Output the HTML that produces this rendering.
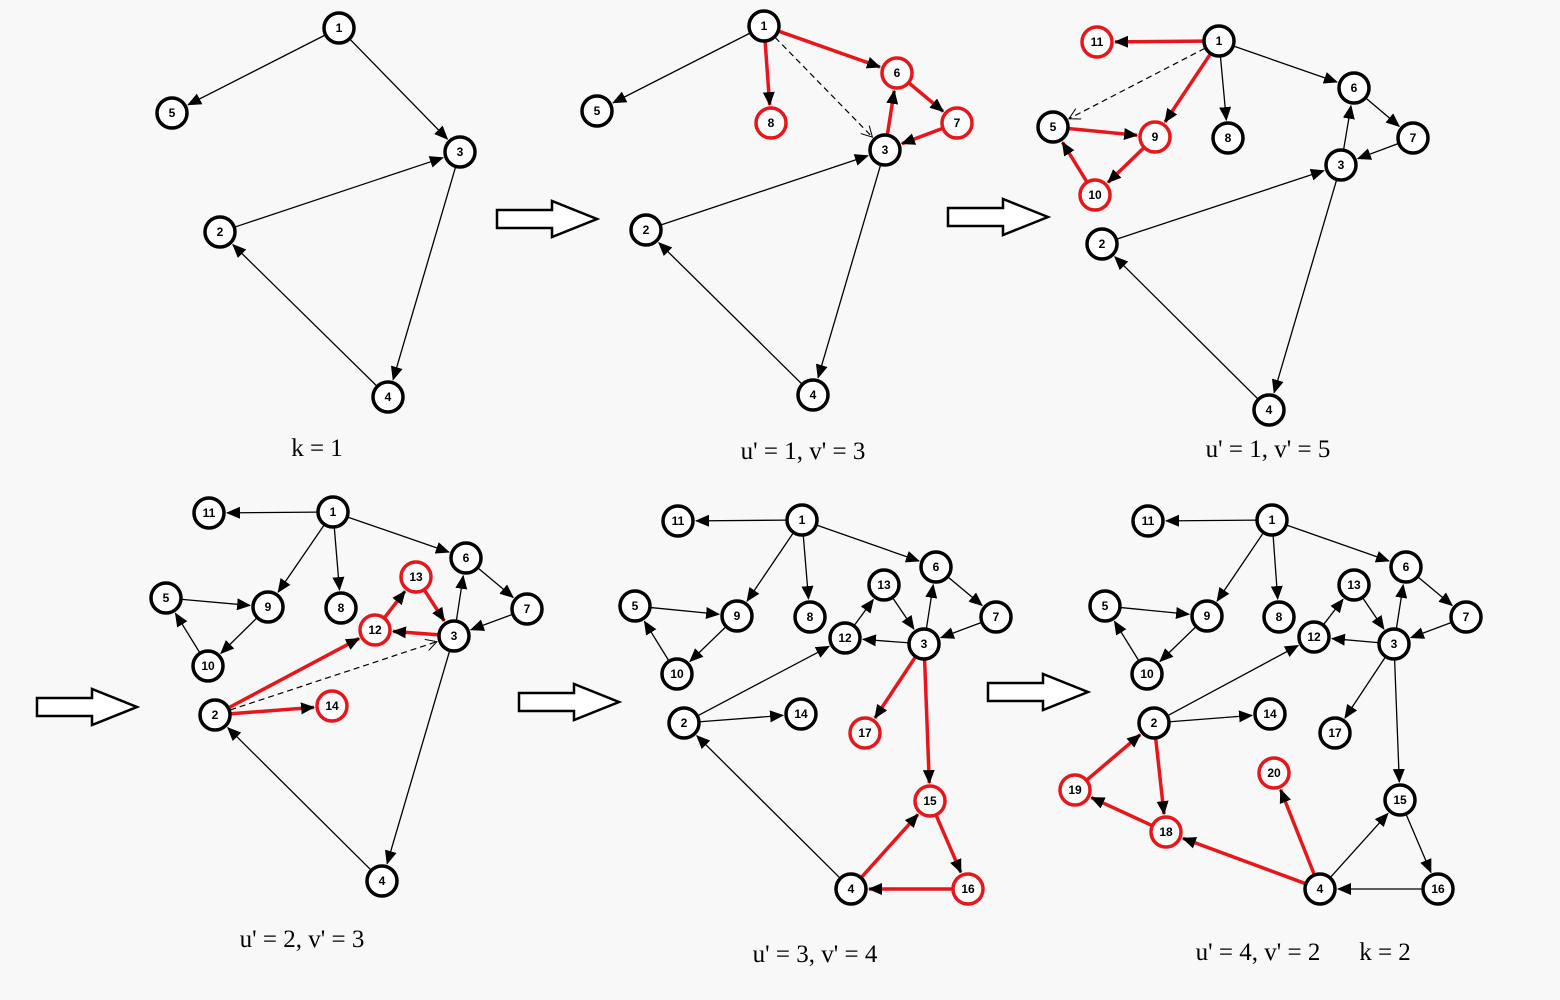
<!DOCTYPE html>
<html><head><meta charset="utf-8"><style>
html,body{margin:0;padding:0;background:#f8f8f8;width:1560px;height:1000px;overflow:hidden}
svg{display:block}
.n circle{fill:#fff;stroke:#000;stroke-width:3.5}
.n circle.r{stroke:#e8161b}
.n text{font-family:"Liberation Sans",sans-serif;font-weight:bold;font-size:12px;text-anchor:middle;dominant-baseline:central}
.lb{font-family:"Liberation Serif",serif;font-size:25px;text-anchor:middle}
.ar{fill:#fff;stroke:#000;stroke-width:2.5}
</style></head><body>
<svg id="s" width="1560" height="1000" viewBox="0 0 1560 1000">
<defs>
<marker id="m" markerUnits="userSpaceOnUse" markerWidth="14" markerHeight="12" refX="13" refY="6" orient="auto"><path d="M0,0 L14,6 L0,12 Z" fill="#000"/></marker>
<marker id="o" markerUnits="userSpaceOnUse" markerWidth="12" markerHeight="12" refX="11" refY="6" orient="auto"><path d="M0,0 L11,6 L0,12" fill="none" stroke="#000" stroke-width="1"/></marker>
</defs>
<g id="edges"></g>
<polygon class="ar" points="497,210 552,210 552,201 597,219 552,237 552,228 497,228"/>
<polygon class="ar" points="948,208 1003,208 1003,199 1048,217 1003,235 1003,226 948,226"/>
<polygon class="ar" points="37,698 92,698 92,689 137,707 92,725 92,716 37,716"/>
<polygon class="ar" points="519,693 574,693 574,684 619,702 574,720 574,711 519,711"/>
<polygon class="ar" points="988,683 1043,683 1043,674 1088,692 1043,710 1043,701 988,701"/>
<g class="n">
<circle cx="339" cy="28" r="15"/><text x="339" y="28">1</text>
<circle cx="172" cy="113" r="15"/><text x="172" y="113">5</text>
<circle cx="460" cy="152" r="15"/><text x="460" y="152">3</text>
<circle cx="220" cy="232" r="15"/><text x="220" y="232">2</text>
<circle cx="388" cy="397" r="15"/><text x="388" y="397">4</text>
<circle cx="764" cy="26" r="15"/><text x="764" y="26">1</text>
<circle cx="597" cy="111" r="15"/><text x="597" y="111">5</text>
<circle class="r" cx="771" cy="123" r="15"/><text x="771" y="123">8</text>
<circle class="r" cx="897" cy="73" r="15"/><text x="897" y="73">6</text>
<circle class="r" cx="957" cy="123" r="15"/><text x="957" y="123">7</text>
<circle cx="885" cy="150" r="15"/><text x="885" y="150">3</text>
<circle cx="646" cy="230" r="15"/><text x="646" y="230">2</text>
<circle cx="813" cy="395" r="15"/><text x="813" y="395">4</text>
<circle class="r" cx="1097" cy="42" r="15"/><text x="1097" y="42">11</text>
<circle cx="1219" cy="41" r="15"/><text x="1219" y="41">1</text>
<circle cx="1354" cy="88" r="15"/><text x="1354" y="88">6</text>
<circle cx="1413" cy="138" r="15"/><text x="1413" y="138">7</text>
<circle cx="1228" cy="138" r="15"/><text x="1228" y="138">8</text>
<circle class="r" cx="1155" cy="137" r="15"/><text x="1155" y="137">9</text>
<circle cx="1053" cy="127" r="15"/><text x="1053" y="127">5</text>
<circle class="r" cx="1095" cy="195" r="15"/><text x="1095" y="195">10</text>
<circle cx="1341" cy="165" r="15"/><text x="1341" y="165">3</text>
<circle cx="1102" cy="244" r="15"/><text x="1102" y="244">2</text>
<circle cx="1269" cy="410" r="15"/><text x="1269" y="410">4</text>
<circle cx="209" cy="513" r="15"/><text x="209" y="513">11</text>
<circle cx="333" cy="512" r="15"/><text x="333" y="512">1</text>
<circle cx="466" cy="558" r="15"/><text x="466" y="558">6</text>
<circle cx="527" cy="609" r="15"/><text x="527" y="609">7</text>
<circle cx="341" cy="608" r="15"/><text x="341" y="608">8</text>
<circle cx="268" cy="607" r="15"/><text x="268" y="607">9</text>
<circle cx="166" cy="598" r="15"/><text x="166" y="598">5</text>
<circle cx="208" cy="666" r="15"/><text x="208" y="666">10</text>
<circle class="r" cx="416" cy="577" r="15"/><text x="416" y="577">13</text>
<circle class="r" cx="375" cy="630" r="15"/><text x="375" y="630">12</text>
<circle cx="454" cy="636" r="15"/><text x="454" y="636">3</text>
<circle cx="215" cy="715" r="15"/><text x="215" y="715">2</text>
<circle class="r" cx="332" cy="706" r="15"/><text x="332" y="706">14</text>
<circle cx="382" cy="881" r="15"/><text x="382" y="881">4</text>
<circle cx="678" cy="521" r="15"/><text x="678" y="521">11</text>
<circle cx="802" cy="520" r="15"/><text x="802" y="520">1</text>
<circle cx="936" cy="567" r="15"/><text x="936" y="567">6</text>
<circle cx="996" cy="617" r="15"/><text x="996" y="617">7</text>
<circle cx="810" cy="617" r="15"/><text x="810" y="617">8</text>
<circle cx="737" cy="616" r="15"/><text x="737" y="616">9</text>
<circle cx="635" cy="606" r="15"/><text x="635" y="606">5</text>
<circle cx="677" cy="674" r="15"/><text x="677" y="674">10</text>
<circle cx="884" cy="585" r="15"/><text x="884" y="585">13</text>
<circle cx="845" cy="638" r="15"/><text x="845" y="638">12</text>
<circle cx="924" cy="644" r="15"/><text x="924" y="644">3</text>
<circle cx="684" cy="723" r="15"/><text x="684" y="723">2</text>
<circle cx="801" cy="714" r="15"/><text x="801" y="714">14</text>
<circle class="r" cx="865" cy="733" r="15"/><text x="865" y="733">17</text>
<circle class="r" cx="930" cy="801" r="15"/><text x="930" y="801">15</text>
<circle class="r" cx="968" cy="889" r="15"/><text x="968" y="889">16</text>
<circle cx="851" cy="889" r="15"/><text x="851" y="889">4</text>
<circle cx="1148" cy="521" r="15"/><text x="1148" y="521">11</text>
<circle cx="1272" cy="520" r="15"/><text x="1272" y="520">1</text>
<circle cx="1406" cy="567" r="15"/><text x="1406" y="567">6</text>
<circle cx="1466" cy="617" r="15"/><text x="1466" y="617">7</text>
<circle cx="1279" cy="617" r="15"/><text x="1279" y="617">8</text>
<circle cx="1207" cy="616" r="15"/><text x="1207" y="616">9</text>
<circle cx="1105" cy="606" r="15"/><text x="1105" y="606">5</text>
<circle cx="1147" cy="674" r="15"/><text x="1147" y="674">10</text>
<circle cx="1354" cy="585" r="15"/><text x="1354" y="585">13</text>
<circle cx="1314" cy="637" r="15"/><text x="1314" y="637">12</text>
<circle cx="1394" cy="644" r="15"/><text x="1394" y="644">3</text>
<circle cx="1154" cy="723" r="15"/><text x="1154" y="723">2</text>
<circle cx="1270" cy="714" r="15"/><text x="1270" y="714">14</text>
<circle cx="1335" cy="733" r="15"/><text x="1335" y="733">17</text>
<circle cx="1400" cy="800" r="15"/><text x="1400" y="800">15</text>
<circle cx="1438" cy="889" r="15"/><text x="1438" y="889">16</text>
<circle cx="1320" cy="889" r="15"/><text x="1320" y="889">4</text>
<circle class="r" cx="1075" cy="790" r="15"/><text x="1075" y="790">19</text>
<circle class="r" cx="1166" cy="832" r="15"/><text x="1166" y="832">18</text>
<circle class="r" cx="1274" cy="773" r="15"/><text x="1274" y="773">20</text>
</g>
<text class="lb" x="317" y="456">k = 1</text>
<text class="lb" x="803" y="459">u' = 1, v' = 3</text>
<text class="lb" x="1268" y="457">u' = 1, v' = 5</text>
<text class="lb" x="302" y="947">u' = 2, v' = 3</text>
<text class="lb" x="815" y="962">u' = 3, v' = 4</text>
<text class="lb" x="1258" y="960">u' = 4, v' = 2</text>
<text class="lb" x="1385" y="960">k = 2</text>
</svg>
<script>
var E=[
[339,28,172,113],[339,28,460,152],[220,232,460,152],[460,152,388,397],[388,397,220,232],
[764,26,597,111],[764,26,771,123,'r'],[764,26,897,73,'r'],[764,26,885,150,'d'],[885,150,897,73,'r'],[897,73,957,123,'r'],[957,123,885,150,'r'],[646,230,885,150],[885,150,813,395],[813,395,646,230],
[1219,41,1097,42,'r'],[1219,41,1155,137,'r'],[1219,41,1053,127,'d'],[1219,41,1228,138],[1219,41,1354,88],[1354,88,1413,138],[1413,138,1341,165],[1341,165,1354,88],[1053,127,1155,137,'r'],[1155,137,1095,195,'r'],[1095,195,1053,127,'r'],[1102,244,1341,165],[1341,165,1269,410],[1269,410,1102,244],
[333,512,209,513],[333,512,268,607],[333,512,341,608],[333,512,466,558],[466,558,527,609],[527,609,454,636],[454,636,466,558],[166,598,268,607],[268,607,208,666],[208,666,166,598],[215,715,375,630,'r'],[375,630,416,577,'r'],[416,577,454,636,'r'],[454,636,375,630,'r'],[215,715,332,706,'r'],[215,715,454,636,'d'],[454,636,382,881],[382,881,215,715],
[802,520,678,521],[802,520,737,616],[802,520,810,617],[802,520,936,567],[936,567,996,617],[996,617,924,644],[924,644,936,567],[635,606,737,616],[737,616,677,674],[677,674,635,606],[684,723,845,638],[845,638,884,585],[884,585,924,644],[924,644,845,638],[684,723,801,714],[924,644,865,733,'r'],[924,644,930,801,'r'],[930,801,968,889,'r'],[968,889,851,889,'r'],[851,889,930,801,'r'],[851,889,684,723],
[1272,520,1148,521],[1272,520,1207,616],[1272,520,1279,617],[1272,520,1406,567],[1406,567,1466,617],[1466,617,1394,644],[1394,644,1406,567],[1105,606,1207,616],[1207,616,1147,674],[1147,674,1105,606],[1154,723,1314,637],[1314,637,1354,585],[1354,585,1394,644],[1394,644,1314,637],[1154,723,1270,714],[1394,644,1335,733],[1394,644,1400,800],[1400,800,1438,889],[1438,889,1320,889],[1320,889,1400,800],[1154,723,1166,832,'r'],[1166,832,1075,790,'r'],[1075,790,1154,723,'r'],[1320,889,1166,832,'r'],[1320,889,1274,773,'r']
];
var g=document.getElementById('edges'),ns='http://www.w3.org/2000/svg';
E.forEach(function(e){var dx=e[2]-e[0],dy=e[3]-e[1],L=Math.sqrt(dx*dx+dy*dy),ux=dx/L,uy=dy/L;
var l=document.createElementNS(ns,'line');
l.setAttribute('x1',e[0]+ux*16);l.setAttribute('y1',e[1]+uy*16);l.setAttribute('x2',e[2]-ux*18);l.setAttribute('y2',e[3]-uy*18);
if(e[4]=='r'){l.setAttribute('stroke','#e8161b');l.setAttribute('stroke-width','3.5');l.setAttribute('marker-end','url(#m)');}
else if(e[4]=='d'){l.setAttribute('stroke','#000');l.setAttribute('stroke-width','1.2');l.setAttribute('stroke-dasharray','6,4');l.setAttribute('marker-end','url(#o)');}
else{l.setAttribute('stroke','#000');l.setAttribute('stroke-width','1.3');l.setAttribute('marker-end','url(#m)');}
g.appendChild(l);});
</script>
</body></html>
